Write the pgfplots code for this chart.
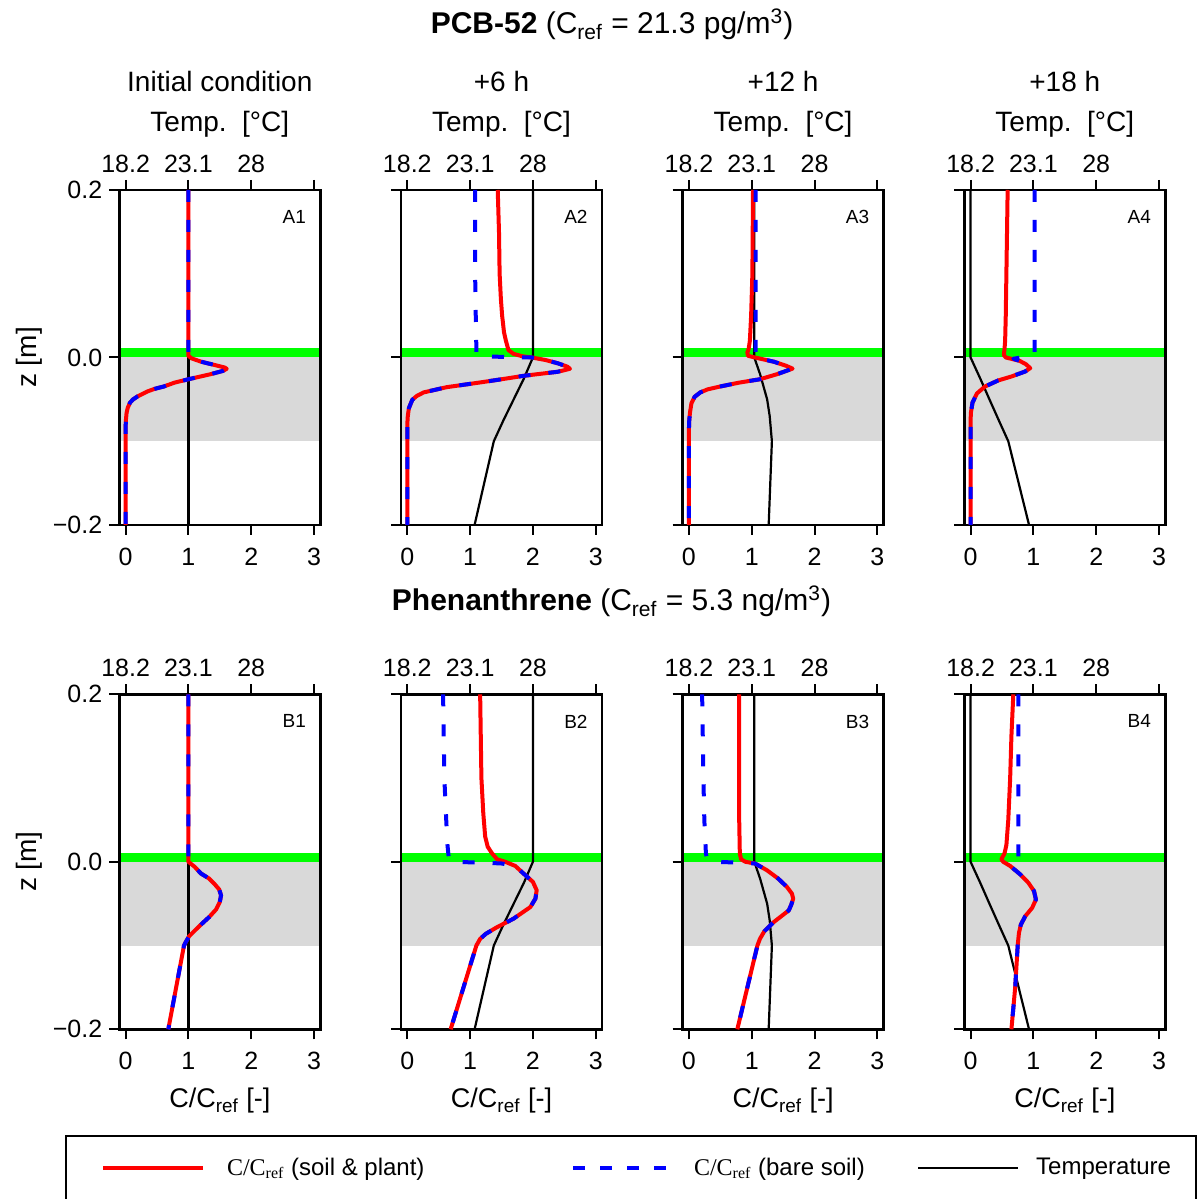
\documentclass[border=0pt]{standalone}
\usepackage{fontspec}
\setmainfont{Liberation Sans}
\newfontfamily\serifmath{Liberation Serif}
\usepackage{pgfplots}
\pgfplotsset{compat=1.18}
\definecolor{bandgray}{RGB}{217,217,217}
\definecolor{bandgreen}{RGB}{0,255,0}
\newcommand{\bands}[2]{%
\addplot[draw=none, fill=bandgray, forget plot] coordinates {(#1,0) (#2,0) (#2,-0.1) (#1,-0.1)} -- cycle;
\addplot[draw=none, fill=bandgreen, forget plot] coordinates {(#1,0) (#2,0) (#2,0.011) (#1,0.011)} -- cycle;
}
\pgfplotsset{
  base/.style={scale only axis, width=100.5pt, height=167.5pt, ymin=-0.2, ymax=0.2, anchor=south west,
    axis line style={line width=1.4pt}, tick style={line width=1pt, black}, major tick length=5pt,
    tick align=outside, tick label style={font=\fontsize{12.5}{14}\selectfont}},
  cpanel/.style={base, xmin=-0.1, xmax=3.1, xtick={0,1,2,3}, xticklabels={0,1,2,3}, xtick pos=left, xticklabel pos=left,
    xticklabel style={yshift=-3pt},
    ytick={-0.2,0,0.2}, ytick pos=left, yticklabel pos=left},
  first/.style={yticklabels={−0.2,0.0,0.2}},
  other/.style={yticklabels={}},
  tpanel/.style={base, xmin=17.71, xmax=33.39, xtick={18.2,23.1,28,32.9}, xticklabels={18.2,23.1,28,{}},
    xtick pos=right, xticklabel pos=right, ytick=\empty, axis on top},
  soil/.style={color={rgb,255:red,255;green,0;blue,0}, line width=2pt, line join=round},
  bare/.style={color={rgb,255:red,0;green,0;blue,255}, line width=2pt, dash pattern=on 6pt off 9pt, line join=round},
  temp/.style={black, line width=1.1pt, line join=round},
}
\newcommand{\plabel}[1]{\node[anchor=north east, inner sep=0pt, font=\fontsize{9.5}{10}\selectfont] at (rel axis cs:0.93,0.94) {#1};}
\begin{document}
\begin{tikzpicture}
\path[use as bounding box] (0,0) rectangle (599pt,599.5pt);

% ---------------- Row A ----------------
% A1
\begin{axis}[tpanel, at={(59.65pt,337pt)}]
\bands{17.71}{33.39}
\addplot[temp, line width=1.4pt] coordinates {(23.1,0.2) (23.1,-0.2)};
\end{axis}
\begin{axis}[cpanel, first, at={(59.65pt,337pt)}]
\addplot[soil] coordinates {(1.0,0.2) (1.0,0.002) (1.05,-0.001) (1.2,-0.005) (1.42,-0.009) (1.58,-0.012) (1.61,-0.0135) (1.55,-0.016) (1.35,-0.02) (1.0,-0.026) (0.78,-0.03) (0.61,-0.0346) (0.46,-0.0375) (0.35,-0.0405) (0.19,-0.0465) (0.12,-0.05) (0.07,-0.054) (0.035,-0.06) (0.016,-0.066) (0.005,-0.075) (0,-0.085) (0,-0.2)};
\addplot[bare] coordinates {(1.0,0.2) (1.0,0.002) (1.05,-0.001) (1.2,-0.005) (1.42,-0.009) (1.58,-0.012) (1.61,-0.0135) (1.55,-0.016) (1.35,-0.02) (1.0,-0.026) (0.78,-0.03) (0.61,-0.0346) (0.46,-0.0375) (0.35,-0.0405) (0.19,-0.0465) (0.12,-0.05) (0.07,-0.054) (0.035,-0.06) (0.016,-0.066) (0.005,-0.075) (0,-0.085) (0,-0.2)};
\plabel{A1}
\end{axis}
% A2
\begin{axis}[tpanel, at={(200.5pt,337pt)}]
\bands{17.71}{33.39}
\addplot[temp] coordinates {(28.0,0.2) (28.0,0.0) (27.3,-0.025) (26.5,-0.05) (25.7,-0.075) (24.95,-0.1) (23.45,-0.2)};
\end{axis}
\begin{axis}[cpanel, other, at={(200.5pt,337pt)}]
\addplot[soil] coordinates {(1.44,0.2) (1.46,0.15) (1.47,0.1) (1.49,0.07) (1.51,0.05) (1.54,0.03) (1.57,0.02) (1.61,0.009) (1.69,0.0044) (1.83,0.0015) (1.98,0.0) (2.2,-0.003) (2.4,-0.007) (2.55,-0.011) (2.59,-0.0135) (2.4,-0.017) (1.85,-0.0219) (1.5,-0.026) (1.16,-0.0298) (0.63,-0.0354) (0.26,-0.0417) (0.15,-0.046) (0.08,-0.0505) (0.026,-0.0604) (0.008,-0.07) (0,-0.08) (0,-0.2)};
\addplot[bare] coordinates {(1.08,0.2) (1.08,0.1) (1.09,0.05) (1.1,0.01) (1.1,0.004) (1.32,0.0012) (1.6,0.0005) (1.98,0.0) (2.2,-0.003) (2.4,-0.007) (2.55,-0.011) (2.59,-0.0135) (2.4,-0.017) (1.85,-0.0219) (1.5,-0.026) (1.16,-0.0298) (0.63,-0.0354) (0.26,-0.0417) (0.15,-0.046) (0.08,-0.0505) (0.026,-0.0604) (0.008,-0.07) (0,-0.08) (0,-0.2)};
\plabel{A2}
\end{axis}
% A3
\begin{axis}[tpanel, at={(341.33pt,337pt)}]
\bands{17.71}{33.39}
\addplot[temp] coordinates {(23.3,0.2) (23.3,0.0) (23.75,-0.02) (24.3,-0.05) (24.5,-0.07) (24.67,-0.1) (24.42,-0.2)};
\end{axis}
\begin{axis}[cpanel, other, at={(341.33pt,337pt)}]
\addplot[soil] coordinates {(1.02,0.2) (1.01,0.1) (0.99,0.05) (0.97,0.02) (0.95,0.01) (0.93,0.006) (0.94,0.002) (1.05,0.0) (1.35,-0.005) (1.55,-0.01) (1.65,-0.0133) (1.4,-0.02) (1.13,-0.026) (0.8,-0.03) (0.5,-0.0346) (0.3,-0.038) (0.18,-0.0417) (0.09,-0.047) (0.04,-0.0545) (0.016,-0.066) (0.005,-0.075) (0,-0.085) (0,-0.2)};
\addplot[bare] coordinates {(1.06,0.2) (1.06,0.05) (1.06,0.004) (1.05,0.0) (1.35,-0.005) (1.55,-0.01) (1.65,-0.0133) (1.4,-0.02) (1.13,-0.026) (0.8,-0.03) (0.5,-0.0346) (0.3,-0.038) (0.18,-0.0417) (0.09,-0.047) (0.04,-0.0545) (0.016,-0.066) (0.005,-0.075) (0,-0.085) (0,-0.2)};
\plabel{A3}
\end{axis}
% A4
\begin{axis}[tpanel, at={(482.15pt,337pt)}]
\bands{17.71}{33.39}
\addplot[temp] coordinates {(18.2,0.2) (18.2,0.0) (18.95,-0.025) (19.67,-0.05) (20.4,-0.075) (21.14,-0.1) (22.76,-0.2)};
\end{axis}
\begin{axis}[cpanel, other, at={(482.15pt,337pt)}]
\addplot[soil] coordinates {(0.59,0.2) (0.57,0.1) (0.56,0.05) (0.55,0.02) (0.54,0.01) (0.53,0.003) (0.56,0.0) (0.65,-0.0016) (0.78,-0.004) (0.88,-0.008) (0.95,-0.0127) (0.87,-0.0167) (0.65,-0.0227) (0.44,-0.0274) (0.23,-0.0346) (0.1,-0.043) (0.03,-0.054) (0.005,-0.066) (0,-0.075) (0,-0.2)};
\addplot[bare] coordinates {(1.02,0.2) (1.02,0.05) (1.02,0.004) (0.9,0.001) (0.68,-0.0015) (0.78,-0.004) (0.88,-0.008) (0.95,-0.0127) (0.87,-0.0167) (0.65,-0.0227) (0.44,-0.0274) (0.23,-0.0346) (0.1,-0.043) (0.03,-0.054) (0.005,-0.066) (0,-0.075) (0,-0.2)};
\plabel{A4}
\end{axis}

% ---------------- Row B ----------------
% B1
\begin{axis}[tpanel, at={(59.65pt,84.85pt)}]
\bands{17.71}{33.39}
\addplot[temp, line width=1.4pt] coordinates {(23.1,0.2) (23.1,-0.2)};
\end{axis}
\begin{axis}[cpanel, first, at={(59.65pt,84.85pt)}]
\addplot[soil] coordinates {(1.0,0.2) (1.0,0.0) (1.1,-0.006) (1.2,-0.014) (1.33,-0.02) (1.41,-0.026) (1.49,-0.033) (1.52,-0.04) (1.5,-0.048) (1.44,-0.057) (1.33,-0.066) (1.2,-0.075) (1.09,-0.083) (1.01,-0.089) (0.95,-0.097) (0.93,-0.1) (0.68,-0.2)};
\addplot[bare] coordinates {(1.0,0.2) (1.0,0.0) (1.1,-0.006) (1.2,-0.014) (1.33,-0.02) (1.41,-0.026) (1.49,-0.033) (1.52,-0.04) (1.5,-0.048) (1.44,-0.057) (1.33,-0.066) (1.2,-0.075) (1.09,-0.083) (1.01,-0.089) (0.95,-0.097) (0.93,-0.1) (0.68,-0.2)};
\plabel{B1}
\end{axis}
% B2
\begin{axis}[tpanel, at={(200.5pt,84.85pt)}]
\bands{17.71}{33.39}
\addplot[temp] coordinates {(28.0,0.2) (28.0,0.0) (27.3,-0.025) (26.5,-0.05) (25.7,-0.075) (24.95,-0.1) (23.45,-0.2)};
\end{axis}
\begin{axis}[cpanel, other, at={(200.5pt,84.85pt)}]
\addplot[soil] coordinates {(1.16,0.2) (1.17,0.15) (1.18,0.1) (1.21,0.058) (1.24,0.03) (1.28,0.018) (1.35,0.01) (1.43,0.003) (1.56,0.0) (1.72,-0.005) (1.85,-0.014) (2.0,-0.024) (2.06,-0.034) (2.04,-0.044) (1.96,-0.054) (1.69,-0.068) (1.43,-0.078) (1.25,-0.086) (1.16,-0.092) (1.1,-0.1) (0.69,-0.2)};
\addplot[bare] coordinates {(0.57,0.2) (0.59,0.1) (0.62,0.05) (0.64,0.02) (0.66,0.005) (0.69,0.0) (1.2,-0.001) (1.5,-0.002) (1.72,-0.005) (1.85,-0.014) (2.0,-0.024) (2.06,-0.034) (2.04,-0.044) (1.96,-0.054) (1.69,-0.068) (1.43,-0.078) (1.25,-0.086) (1.16,-0.092) (1.1,-0.1) (0.69,-0.2)};
\plabel{B2}
\end{axis}
% B3
\begin{axis}[tpanel, at={(341.33pt,84.85pt)}]
\bands{17.71}{33.39}
\addplot[temp] coordinates {(23.3,0.2) (23.3,0.0) (23.75,-0.02) (24.3,-0.05) (24.5,-0.07) (24.67,-0.1) (24.42,-0.2)};
\end{axis}
\begin{axis}[cpanel, other, at={(341.33pt,84.85pt)}]
\addplot[soil] coordinates {(0.8,0.2) (0.8,0.05) (0.81,0.01) (0.83,0.003) (0.9,0.0) (1.05,-0.002) (1.24,-0.01) (1.42,-0.02) (1.56,-0.03) (1.64,-0.038) (1.66,-0.044) (1.63,-0.051) (1.59,-0.058) (1.47,-0.065) (1.35,-0.072) (1.2,-0.083) (1.13,-0.092) (1.09,-0.1) (0.77,-0.2)};
\addplot[bare] coordinates {(0.21,0.2) (0.23,0.1) (0.245,0.05) (0.27,0.01) (0.29,0.003) (0.35,0.0) (0.85,-0.001) (1.05,-0.002) (1.24,-0.01) (1.42,-0.02) (1.56,-0.03) (1.64,-0.038) (1.66,-0.044) (1.63,-0.051) (1.59,-0.058) (1.47,-0.065) (1.35,-0.072) (1.2,-0.083) (1.13,-0.092) (1.09,-0.1) (0.77,-0.2)};
\plabel{B3}
\end{axis}
% B4
\begin{axis}[tpanel, at={(482.15pt,84.85pt)}]
\bands{17.71}{33.39}
\addplot[temp] coordinates {(18.2,0.2) (18.2,0.0) (18.95,-0.025) (19.67,-0.05) (20.4,-0.075) (21.14,-0.1) (22.76,-0.2)};
\end{axis}
\begin{axis}[cpanel, other, at={(482.15pt,84.85pt)}]
\addplot[soil] coordinates {(0.68,0.2) (0.65,0.15) (0.63,0.1) (0.6,0.05) (0.57,0.02) (0.54,0.01) (0.49,0.003) (0.52,0.0) (0.63,-0.005) (0.79,-0.015) (0.92,-0.025) (1.01,-0.035) (1.04,-0.045) (0.98,-0.055) (0.87,-0.065) (0.8,-0.075) (0.77,-0.085) (0.75,-0.1) (0.71,-0.15) (0.65,-0.2)};
\addplot[bare] coordinates {(0.76,0.2) (0.76,0.005) (0.72,0.001) (0.62,-0.002) (0.63,-0.005) (0.79,-0.015) (0.92,-0.025) (1.01,-0.035) (1.04,-0.045) (0.98,-0.055) (0.87,-0.065) (0.8,-0.075) (0.77,-0.085) (0.75,-0.1) (0.71,-0.15) (0.65,-0.2)};
\plabel{B4}
\end{axis}

% ---------------- Legend ----------------
\begin{axis}[hide axis, scale only axis, width=10pt, height=10pt, xmin=0, xmax=1, ymin=0, ymax=1,
  at={(50.5pt,15.5pt)}, anchor=south west,
  legend columns=3,
  legend style={at={(0,0)}, anchor=west, draw=none, fill=none, inner sep=0pt, outer sep=0pt,
    /tikz/every even column/.style={column sep=0pt},
    /tikz/every odd column/.style={column sep=0pt},
    nodes={inner sep=0pt, anchor=west, font=\fontsize{12}{14}\selectfont}},
  legend image code/.code={\draw[#1] (0pt,0pt) -- (50pt,0pt);}]
\addlegendimage{color={rgb,255:red,255;green,0;blue,0}, line width=2pt}
\addlegendentry{\hspace{11pt}\makebox[172pt][l]{{\serifmath C/C\textsubscript{ref}} (soil \& plant)}}
\addlegendimage{color={rgb,255:red,0;green,0;blue,255}, line width=2pt, dash pattern=on 6pt off 7.5pt}
\addlegendentry{\hspace{9.5pt}\makebox[111.5pt][l]{{\serifmath C/C\textsubscript{ref}} (bare soil)}}
\addlegendimage{black, line width=1.1pt}
\addlegendentry{\hspace{8.5pt}Temperature}
\end{axis}
\draw[line width=1pt] (33pt,-20pt) rectangle (598pt,31.5pt);

% ---------------- Texts ----------------
\node[anchor=base, font=\fontsize{15}{18}\selectfont] at (306pt,582.5pt) {\textbf{PCB-52} (C\textsubscript{ref} = 21.3 pg/m\textsuperscript{3})};
\node[anchor=base, font=\fontsize{15}{18}\selectfont] at (305.75pt,294pt) {\textbf{Phenanthrene} (C\textsubscript{ref} = 5.3 ng/m\textsuperscript{3})};
\foreach \cx/\ttl in {109.9/Initial condition, 250.75/+6 h, 391.55/+12 h, 532.4/+18 h}{
  \node[anchor=base, font=\fontsize{14}{16}\selectfont] at (\cx pt,553.65pt) {\ttl};
  \node[anchor=base, font=\fontsize{14}{16}\selectfont] at (\cx pt,533.65pt) {Temp.~~[°C]};
  \node[anchor=base, font=\fontsize{13.5}{16}\selectfont] at (\cx pt,45.5pt) {C/C\textsubscript{ref} [-]};
}
\node[rotate=90, font=\fontsize{14}{16}\selectfont] at (14.5pt,420.75pt) {z [m]};
\node[rotate=90, font=\fontsize{14}{16}\selectfont] at (14.5pt,168.7pt) {z [m]};
\end{tikzpicture}
\end{document}
